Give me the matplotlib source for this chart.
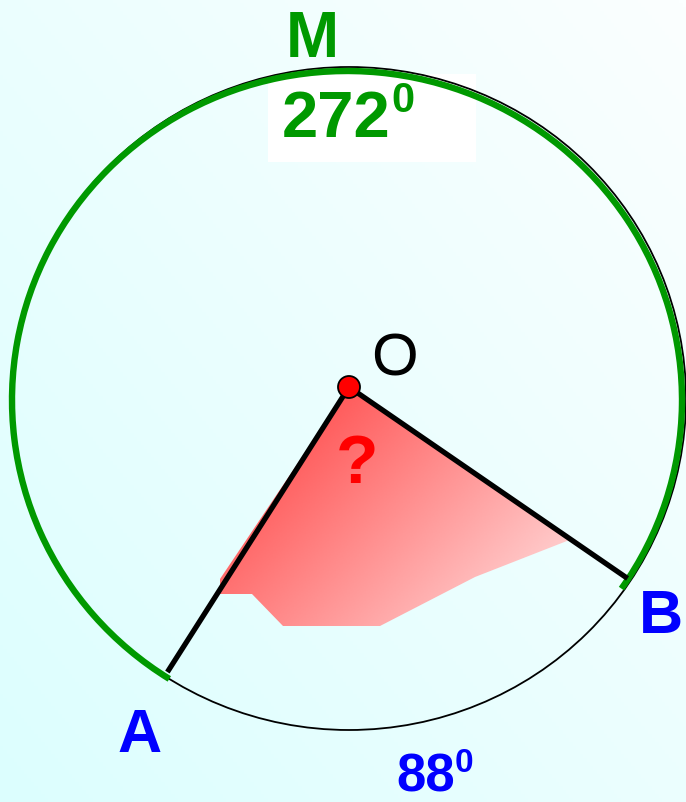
import numpy as np
import matplotlib.pyplot as plt
from matplotlib.patches import Ellipse, Arc, Polygon, Circle
from matplotlib.colors import LinearSegmentedColormap

""" Data (pixel space, y grows downwards) """
circle_center = (349, 399.5)
circle_size = (674, 663)          # width, height of the black outline
green_center = (347, 401)
green_size = (670, 658)
center_O = (349, 388)
ray_len = 338
angle_B = -34.5                   # degrees, counterclockwise from +x
arc_AB = 88
arc_AMB = 360 - arc_AB
angle_A = angle_B - arc_AB

# shaded region (rough sector piece)
shade_x = [349, 572, 475, 380, 283, 252, 220, 220]
shade_y = [388, 540, 578, 627, 627, 595, 595, 580]

labels = ['M', 'O', 'A', 'B', '?']
label_x = [312, 394, 140, 661, 357]
label_y = [57, 376, 752, 633, 483]

""" Figure """
fig = plt.figure(figsize=(6.86, 8.03), dpi=100)
ax = fig.add_axes([0, 0, 1, 1])
ax.set_xlim(0, 686)
ax.set_ylim(803, 0)
ax.axis('off')

# background gradient
gx, gy = np.meshgrid(np.linspace(0, 1, 200), np.linspace(0, 1, 200))
bg = (gy + (1 - gx)) / 2
bg_cmap = LinearSegmentedColormap.from_list('bg', ['#fbffff', '#dcfefe'])
ax.imshow(bg, cmap=bg_cmap, extent=[0, 686, 803, 0], aspect='auto', zorder=0)

# white box behind 272
ax.add_patch(plt.Rectangle((268, 75), 208, 88, color='white', lw=0, zorder=1))

# shaded sector with gradient
poly = Polygon(np.column_stack([shade_x, shade_y]), closed=True, fc='none', ec='none')
ax.add_patch(poly)
sx, sy = np.meshgrid(np.linspace(0, 1, 200), np.linspace(0, 1, 200))
sh = (sx * 0.6 + sy * 0.4)
red_cmap = LinearSegmentedColormap.from_list('red', ['#ff3535', '#ffe4e4'])
im = ax.imshow(sh, cmap=red_cmap, extent=[min(shade_x), max(shade_x), max(shade_y), min(shade_y)],
               aspect='auto', zorder=2)
im.set_clip_path(poly)

# circle outline + major arc
ax.add_patch(Ellipse(circle_center, *circle_size, fill=False, ec='black', lw=1.3, zorder=3))
# y axis is inverted, so negate angles for Arc
ax.add_patch(Arc(green_center, *green_size, theta1=-angle_A - 360, theta2=-angle_B,
                 ec='#009900', lw=4.6, zorder=4))

# rays OA, OB
def on_circle(a):
    t = np.deg2rad(a)
    return center_O[0] + ray_len * np.cos(t), center_O[1] - ray_len * np.sin(t)

Ax, Ay = on_circle(angle_A)
Bx, By = on_circle(angle_B)
ax.plot([Ax, center_O[0], Bx], [Ay, center_O[1], By], color='black', lw=3.8,
        solid_capstyle='butt', zorder=5)
ax.add_patch(Circle(center_O, 11, fc='red', ec='black', lw=1.3, zorder=6))

# labels
bold = dict(family='Liberation Sans', weight='bold')
ax.text(label_x[0], label_y[0], labels[0], color='#009900', fontsize=46, ha='center', va='baseline', **bold)
ax.text(label_x[1], label_y[1], labels[1], color='black', fontsize=43, ha='center', va='baseline',
        family='Liberation Sans')
ax.text(label_x[2], label_y[2], labels[2], color='#0000ff', fontsize=44, ha='center', va='baseline', **bold)
ax.text(label_x[3], label_y[3], labels[3], color='#0000ff', fontsize=44, ha='center', va='baseline', **bold)
ax.text(label_x[4], label_y[4], labels[4], color='#ff0000', fontsize=50, ha='center', va='baseline', **bold)

# arc measures
ax.text(390, 137, str(arc_AMB), color='#009900', fontsize=47, ha='right', va='baseline', **bold)
ax.text(391, 112, '0', color='#009900', fontsize=30, ha='left', va='baseline', **bold)
ax.text(455, 792, str(arc_AB), color='#0000ff', fontsize=38, ha='right', va='baseline', **bold)
ax.text(455, 772, '0', color='#0000ff', fontsize=24, ha='left', va='baseline', **bold)

plt.savefig('out.png', dpi=100)
